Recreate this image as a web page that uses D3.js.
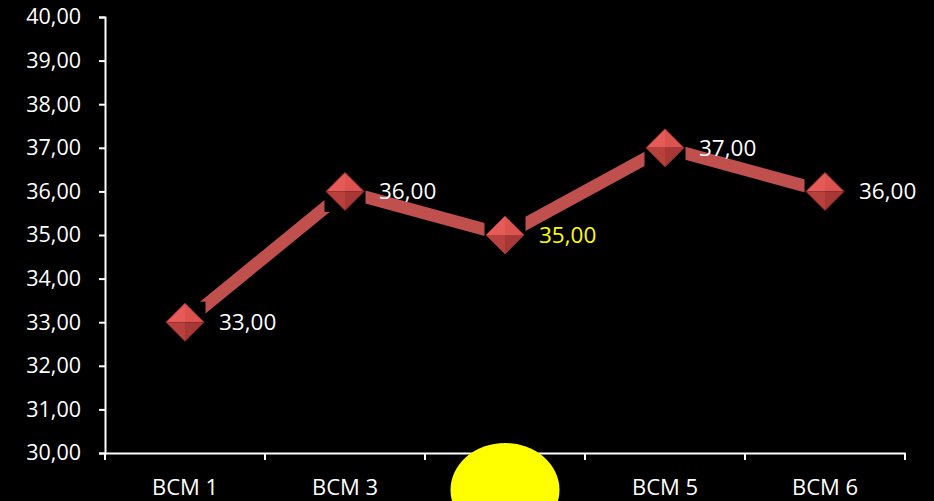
<!DOCTYPE html>
<html>
<head>
<meta charset="utf-8">
<script src="https://cdn.jsdelivr.net/npm/d3@7"></script>
<style>
  html, body { margin: 0; padding: 0; background: #000; }
  svg { display: block; }
  text { font-family: "Open Sans", Lato, sans-serif; }
</style>
</head>
<body>
<svg id="chart" width="934" height="501"></svg>
<script>
// Chart data
const categories = ["BCM 1", "BCM 3", "BCM 4", "BCM 5", "BCM 6"];
const values = [33, 36, 35, 37, 36];
const labelColors = ["#ffffff", "#ffffff", "#ffff00", "#ffffff", "#ffffff"];
const yTicks = [30, 31, 32, 33, 34, 35, 36, 37, 38, 39, 40];

const fmt = v => v.toFixed(2).replace(".", ",");

const svg = d3.select("#chart");
const plot = { left: 105, right: 905, top: 17, bottom: 453 };

const x = d3.scaleBand().domain(categories).range([plot.left, plot.right]);
const y = d3.scaleLinear().domain([30, 40]).range([plot.bottom, plot.top]);

// Y axis
const yAxis = svg.append("g").attr("transform", `translate(${plot.left},0)`)
  .call(d3.axisLeft(y).tickValues(yTicks).tickFormat(fmt).tickSize(6).tickPadding(18));
yAxis.select(".domain").attr("stroke", "#fff").attr("stroke-width", 2);
yAxis.selectAll(".tick line").attr("stroke", "#fff").attr("stroke-width", 2);
yAxis.selectAll(".tick text").attr("fill", "#fff").attr("font-size", 21.5);

// X axis with tick marks on category boundaries
const xAxis = svg.append("g").attr("transform", `translate(0,${plot.bottom})`)
  .call(d3.axisBottom(x).tickSize(0).tickPadding(26));
xAxis.select(".domain").attr("stroke", "#fff").attr("stroke-width", 2);
xAxis.selectAll(".tick text").attr("fill", "#fff").attr("font-size", 22);
const bounds = categories.map(c => x(c)).concat([x(categories[categories.length - 1]) + x.bandwidth()]);
svg.append("g").selectAll("line").data(bounds).join("line")
  .attr("x1", d => d).attr("x2", d => d)
  .attr("y1", plot.bottom).attr("y2", plot.bottom + 7)
  .attr("stroke", "#fff").attr("stroke-width", 2);

const pts = categories.map((c, i) => ({ c, v: values[i], cx: x(c) + x.bandwidth() / 2, cy: y(values[i]), col: labelColors[i] }));

// Connecting line
svg.append("path")
  .datum(pts)
  .attr("d", d3.line().x(d => d.cx).y(d => d.cy))
  .attr("fill", "none")
  .attr("stroke", "#c0504d")
  .attr("stroke-width", 12.5);

// Black backing square behind each marker
svg.append("g").selectAll("rect").data(pts).join("rect")
  .attr("x", d => d.cx - 20.5).attr("y", d => d.cy - 20.5)
  .attr("width", 41).attr("height", 41)
  .attr("fill", "#000");

// Beveled diamond markers
const r = 19;
const mk = svg.append("g").selectAll("g").data(pts).join("g")
  .attr("transform", d => `translate(${d.cx},${d.cy})`);
const facets = [
  { p: [[0, -r], [-r, 0], [0, 0]], f: "#e65b58" },
  { p: [[0, -r], [r, 0], [0, 0]], f: "#dc5350" },
  { p: [[-r, 0], [0, r], [0, 0]], f: "#b8403d" },
  { p: [[r, 0], [0, r], [0, 0]], f: "#a83835" }
];
facets.forEach(fc => {
  mk.append("polygon").attr("points", fc.p.map(q => q.join(",")).join(" ")).attr("fill", fc.f);
});
mk.append("polygon")
  .attr("points", `0,${-r} ${r},0 0,${r} ${-r},0`)
  .attr("fill", "none").attr("stroke", "#8e2f2c").attr("stroke-width", 1);

// Value labels
svg.append("g").selectAll("text").data(pts).join("text")
  .attr("x", d => d.cx + 34).attr("y", d => d.cy)
  .attr("dy", "0.35em")
  .attr("fill", d => d.col)
  .attr("font-size", 22.5)
  .text(d => fmt(d.v));

// Yellow highlight ellipse over the third category label
svg.append("ellipse")
  .attr("cx", x(categories[2]) + x.bandwidth() / 2)
  .attr("cy", 490).attr("rx", 54.5).attr("ry", 47)
  .attr("fill", "#ffff00");
</script>
</body>
</html>
